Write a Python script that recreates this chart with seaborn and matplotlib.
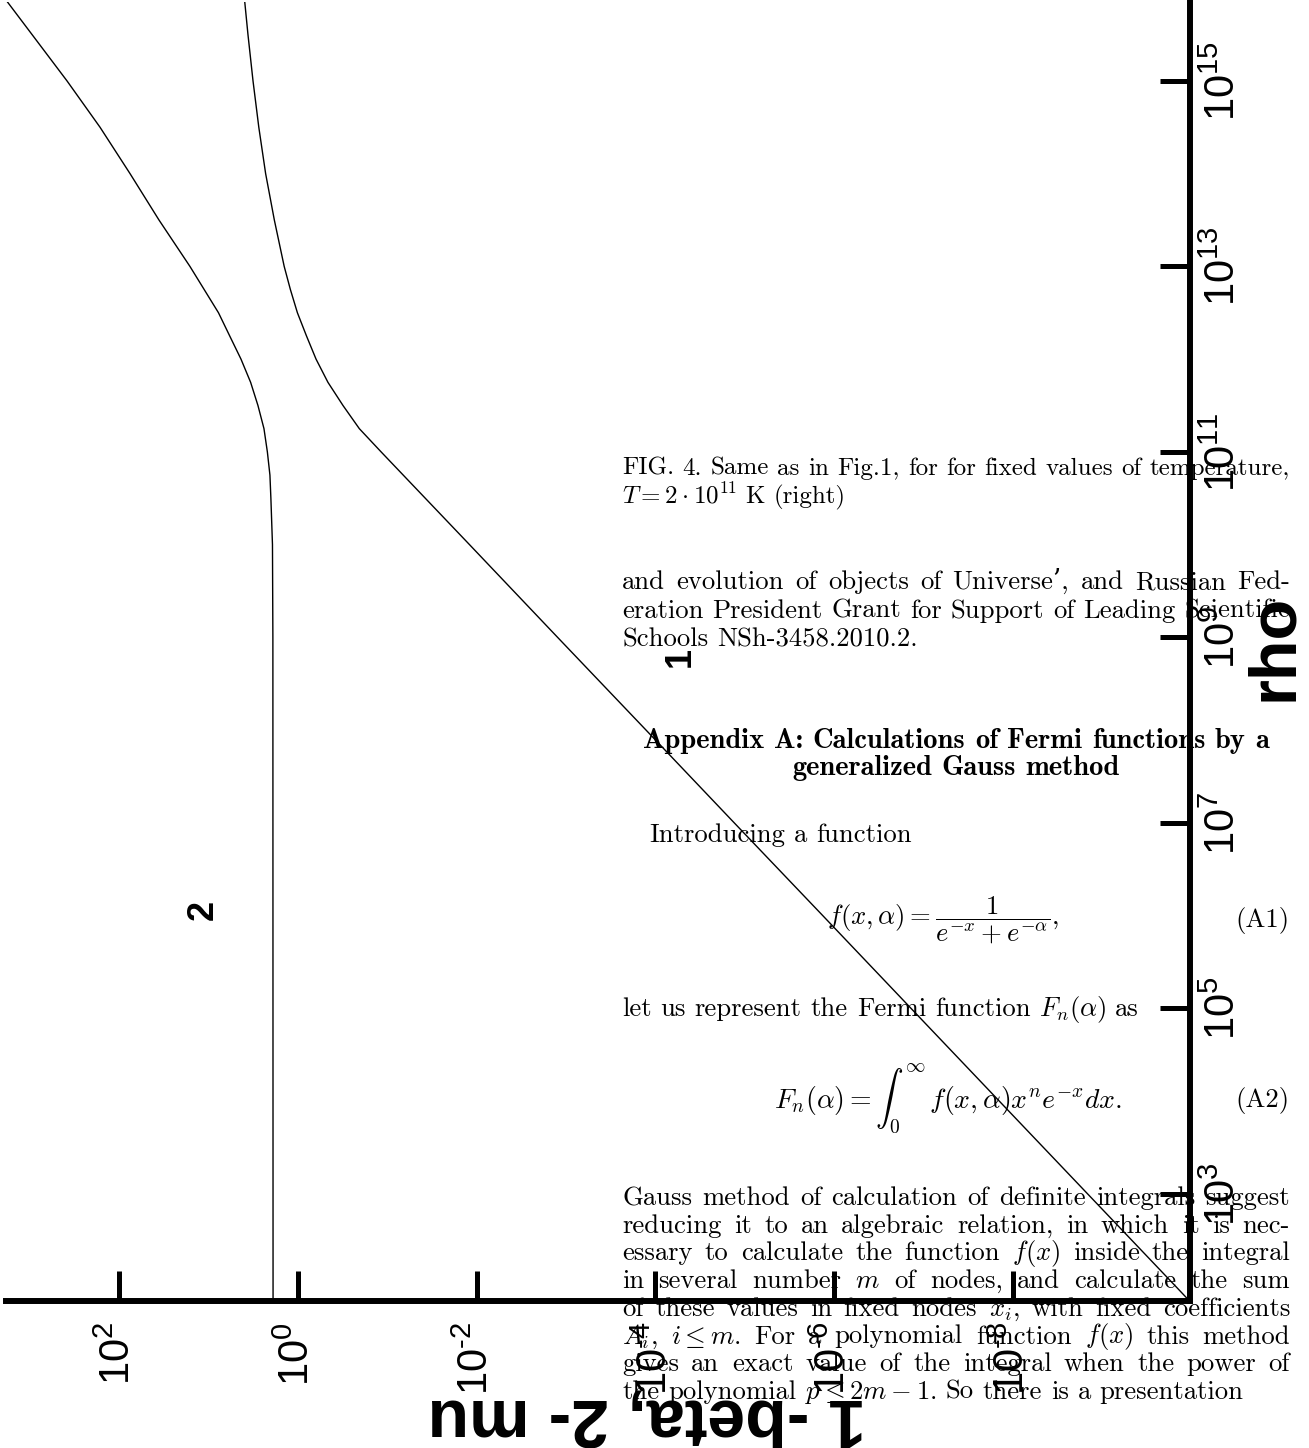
import matplotlib
matplotlib.use("Agg")
import matplotlib.pyplot as plt
import pandas as pd
import seaborn as sns

# ---------------- data ----------------
# curve 2 : mu  (value vs density rho)
rho_mu = [1e16, 3.16e15, 1e15, 3.16e14, 1e14, 3.16e13, 1e13, 3.16e12, 1.78e12,
          1e12, 5.62e11, 3.16e11, 1.78e11, 1e11, 5.62e10, 3.16e10, 1e10, 1e9, 1e1]
mu_vals = [2317, 940, 382, 163, 75.3, 35.7, 16.1, 7.71, 5.78,
           4.32, 3.37, 2.79, 2.39, 2.19, 2.05, 2.00, 1.92, 1.90, 1.89]

# curve 1 : 1 - beta
rho_beta = [1e16, 3.16e15, 1e15, 3.16e14, 1e14, 3.16e13, 1e13, 5.62e12, 3.16e12,
            1.78e12, 1e12, 5.62e11, 3.16e11, 1.78e11, 1e11, 1e10, 1e9, 1e8, 1e7,
            1e6, 1e5, 1e4, 1e3, 1e2, 5e1]
beta_vals = [4.06, 3.61, 3.17, 2.73, 2.29, 1.83, 1.42, 1.21, 1.01,
             0.80, 0.625, 0.460, 0.312, 0.205, 0.117, 1.20e-2, 1.24e-3, 1.27e-4, 1.31e-5,
             1.34e-6, 1.38e-7, 1.42e-8, 1.46e-9, 1.50e-10, 7.6e-11]

xtick_vals = [1e2, 1e0, 1e-2, 1e-4, 1e-6, 1e-8]
xtick_labels = ["$10^{2}$", "$10^{0}$", r"$10^{\text{-}2}$", r"$10^{\text{-}4}$",
                r"$10^{\text{-}6}$", r"$10^{\text{-}8}$"]
ytick_vals = [1e3, 1e5, 1e7, 1e9, 1e11, 1e13, 1e15]
ytick_labels = ["$10^{3}$", "$10^{5}$", "$10^{7}$", "$10^{9}$", "$10^{11}$", "$10^{13}$", "$10^{15}$"]
x_limits = (10 ** 3.264, 10 ** -9.98)
y_limits = (10 ** 1.846, 10 ** 15.85)

xlabel_text = "1 -beta, 2- mu"
ylabel_text = "rho"

# ---------------- style ----------------
sns.set_theme(style="white")
plt.rcParams["font.family"] = ["Liberation Sans", "DejaVu Sans"]
plt.rcParams["mathtext.fontset"] = "custom"
plt.rcParams["mathtext.rm"] = "Liberation Sans"
plt.rcParams["mathtext.it"] = "Liberation Sans:italic"
plt.rcParams["mathtext.bf"] = "Liberation Sans:bold"
plt.rcParams["mathtext.sf"] = "Liberation Sans"

W, H = 1309, 1448
fig = plt.figure(figsize=(W / 100, H / 100), dpi=100)
fig.patch.set_facecolor("white")
ax = fig.add_axes([6 / W, (H - 1301) / H, 1184 / W, 1299 / H])
ax.set_facecolor("white")
ax.set_xscale("log")
ax.set_yscale("log")

df_mu = pd.DataFrame({"rho": rho_mu, "val": mu_vals})
df_beta = pd.DataFrame({"rho": rho_beta, "val": beta_vals})
sns.lineplot(data=df_mu, x="val", y="rho", sort=False, estimator=None,
             color="black", linewidth=1.0, ax=ax)
sns.lineplot(data=df_beta, x="val", y="rho", sort=False, estimator=None,
             color="black", linewidth=1.0, ax=ax)

ax.set_xlim(*x_limits)
ax.set_ylim(*y_limits)
ax.grid(False)

for s in ["top", "left"]:
    ax.spines[s].set_visible(False)
for s in ["bottom", "right"]:
    ax.spines[s].set_visible(True)
    ax.spines[s].set_linewidth(4.3)
    ax.spines[s].set_color("black")

ax.xaxis.set_minor_locator(matplotlib.ticker.NullLocator())
ax.yaxis.set_minor_locator(matplotlib.ticker.NullLocator())
ax.yaxis.tick_right()
ax.yaxis.set_label_position("right")
ax.set_xticks(xtick_vals)
ax.set_xticklabels(xtick_labels)
ax.set_yticks(ytick_vals)
ax.set_yticklabels(ytick_labels)
ax.tick_params(axis="x", which="major", direction="in", length=21.6, width=3.6,
               color="black", pad=15, labelsize=30, labelrotation=90,
               bottom=True, top=False, labelcolor="black")
ax.tick_params(axis="y", which="major", direction="in", length=21.6, width=3.6,
               color="black", pad=10, labelsize=30, labelrotation=90,
               right=True, left=False, labelright=True, labelleft=False,
               labelcolor="black")
for lab in ax.get_yticklabels():
    lab.set_va("center")

ax.set_xlabel(xlabel_text, fontsize=49, fontweight="bold", rotation=180,
              ha="center", va="center", color="black")
ax.xaxis.set_label_coords(0.541, -0.090)
ax.set_ylabel(ylabel_text, fontsize=48, fontweight="bold", rotation=90,
              ha="center", va="center", color="black")
ax.yaxis.set_label_coords(1.072, 0.503)

# curve labels
fig.text(680 / W, 1 - 657 / H, "1", rotation=90, fontsize=26, fontweight="bold",
         ha="center", va="center", color="black")
fig.text(203 / W, 1 - 910 / H, "2", rotation=90, fontsize=26, fontweight="bold",
         ha="center", va="center", color="black")

# ---------------- overlaid page text ----------------
renderer = fig.canvas.get_renderer()
SERIF = ["cmr10", "DejaVu Serif"]
BOLD = ["cmb10", "DejaVu Serif"]
BODY = 19.2
CAP = 18.0
HEAD = 20.5
COL_X0, COL_W = 622, 668


def place_words(tokens, ybase, size, family=SERIF, x0=COL_X0, width=None,
                center=None, space_em=0.333):
    texts = [fig.text(0, 0, t, fontsize=size, family=family, math_fontfamily="cm",
                      ha="left", va="baseline", color="black") for t in tokens]
    widths = [t.get_window_extent(renderer).width for t in texts]
    if width is not None and len(tokens) > 1:
        gap = (width - sum(widths)) / (len(tokens) - 1)
    else:
        gap = size * 100 / 72 * space_em
    total = sum(widths) + gap * (len(tokens) - 1)
    x = center - total / 2 if center is not None else x0
    for t, w in zip(texts, widths):
        t.set_position((x / W, 1 - ybase / H))
        x += w + gap


# caption
place_words("FIG. 4. Same as in Fig.1, for for fixed values of temperature,".split(),
            475, CAP, width=COL_W)
place_words([r"$T=2\cdot10^{11}$", "K", "(right)"], 503, CAP)

# acknowledgement paragraph
place_words("and evolution of objects of Universe’, and Russian Fed-".split(),
            589, BODY, width=COL_W)
place_words("eration President Grant for Support of Leading Scientific".split(),
            618, BODY, width=COL_W)
place_words("Schools NSh-3458.2010.2.".split(), 647, BODY)

# appendix heading
place_words("Appendix A: Calculations of Fermi functions by a".split(), 748, HEAD,
            family=BOLD, center=956)
place_words("generalized Gauss method".split(), 775, HEAD, family=BOLD, center=956)

place_words("Introducing a function".split(), 842, BODY, x0=649)

fig.text(943 / W, 1 - 920 / H, r"$f(x,\alpha) = \dfrac{1}{e^{-x} + e^{-\alpha}},$",
         fontsize=BODY, math_fontfamily="cm", ha="center", va="center", color="black")
fig.text(1290 / W, 1 - 920 / H, "(A1)", fontsize=BODY, family=SERIF,
         ha="right", va="center", color="black")

place_words(["let", "us", "represent", "the", "Fermi", "function", r"$F_n(\alpha)$", "as"],
            1016, BODY)

fig.text(948 / W, 1 - 1100 / H,
         r"$F_n(\alpha) = \int_0^{\infty}\, f(x,\alpha) x^n e^{-x} dx.$",
         fontsize=BODY + 0.8, math_fontfamily="cm", ha="center", va="center", color="black")
fig.text(1290 / W, 1 - 1100 / H, "(A2)", fontsize=BODY, family=SERIF,
         ha="right", va="center", color="black")

para_lines = [
    "Gauss method of calculation of definite integrals suggest".split(),
    "reducing it to an algebraic relation, in which it is nec-".split(),
    ["essary", "to", "calculate", "the", "function", r"$f(x)$", "inside", "the", "integral"],
    ["in", "several", "number", r"$m$", "of", "nodes,", "and", "calculate", "the", "sum"],
    ["of", "these", "values", "in", "fixed", "nodes", r"$x_i$,", "with", "fixed", "coefficients"],
    [r"$A_i$,", r"$i\leq m$.", "For", "a", "polynomial", "function", r"$f(x)$", "this", "method"],
    "gives an exact value of the integral when the power of".split(),
]
y0 = 1205
step = 27.7
for i, toks in enumerate(para_lines):
    place_words(toks, y0 + i * step, BODY, width=COL_W)
place_words(["the", "polynomial", r"$p\leq 2m-1$.", "So", "there", "is", "a", "presentation"],
            y0 + 7 * step, BODY)

fig.savefig("out.png", dpi=100, facecolor="white")
